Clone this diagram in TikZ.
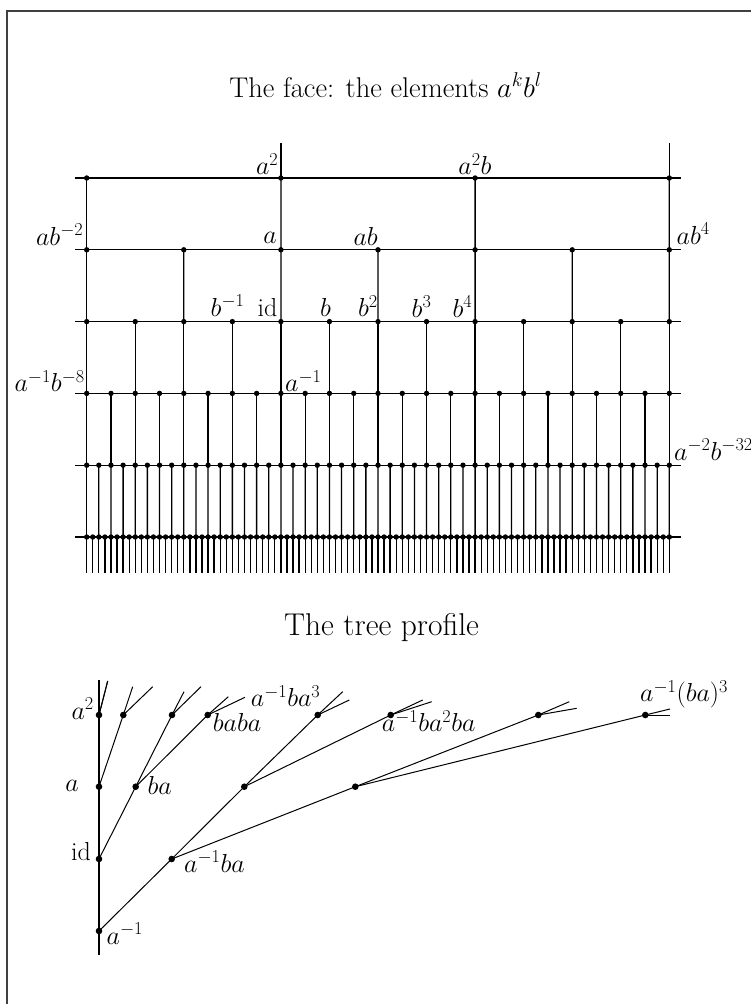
\RequirePackage{fix-cm}
\documentclass[tikz,border=0pt]{standalone}
\begin{document}
\begin{tikzpicture}[x=1pt,y=-1pt,
  faceline/.style={line width=1.3pt},
  treeline/.style={line width=1pt},
  lab/.style={font=\fontsize{26}{30}\selectfont,inner sep=0pt},
  ttl/.style={font=\fontsize{31.5}{36}\selectfont,inner sep=0pt}]
\useasboundingbox (0,0) rectangle (751,1004);
% frame (only top and left edges are inside the page)
\draw[line width=1.4pt,black!75] (7,1020) -- (7,11) -- (770,11);

% ---------------- the face ----------------
\node[ttl,anchor=base,font=\fontsize{28.5}{33}\selectfont] (facetitle) at (385.5,97.3) {The face: the elements $a^kb^l$};

\foreach \r in {0,...,5}{
  \pgfmathtruncatemacro\n{3*2^\r}
  \pgfmathsetmacro\s{194.2/2^\r}
  \pgfmathsetmacro\y{178+71.8*\r}
  \foreach \i in {0,...,\n}{
    \coordinate (f\r-\i) at ({86.7+\i*\s},\y);
  }
}
% horizontal lines
\foreach \r/\n in {0/3,1/6,2/12,3/24,4/48,5/96}{
  \draw[faceline] ([xshift=-11.4pt]f\r-0) -- ([xshift=11.7pt]f\r-\n);
}
% vertical lines
\foreach \r/\n in {0/3,1/6,2/12,3/24,4/48}{
  \pgfmathtruncatemacro\rr{\r+1}
  \foreach \i in {0,...,\n}{
    \pgfmathtruncatemacro\j{2*\i}
    \draw[faceline] (f\r-\i) -- (f\rr-\j);
  }
}
\foreach \i in {0,...,96}{
  \draw[faceline] (f5-\i) -- ++(0,35.6);
}
\draw[faceline] (f0-1) -- ++(0,-35.3);
\draw[faceline] (f0-3) -- ++(0,-35.3);
% dots
\foreach \r/\n in {0/3,1/6,2/12,3/24,4/48,5/96}{
  \foreach \i in {0,...,\n}{
    \fill (f\r-\i) circle (2.7pt);
  }
}
% labels
\node[lab,anchor=base east] (la2) at (278.5,174.5) {$a^2$};
\node[lab,anchor=base] (la2b) at (475,174.5) {$a^2b$};
\node[lab,anchor=base east] (labm2) at (83.5,245) {$ab^{-2}$};
\node[lab,anchor=base east] (la) at (277,243) {$a$};
\node[lab,anchor=base east] (lab) at (378,245) {$ab$};
\node[lab,anchor=base west] (lab4) at (676.5,244) {$ab^4$};
\node[lab,anchor=base west] (lbm1) at (210.5,316) {$b^{-1}$};
\node[lab,anchor=base east] (lid) at (277.5,316.5) {id};
\node[lab,anchor=base west] (lb) at (320,316.5) {$b$};
\node[lab,anchor=base east] (lb2) at (378,316.5) {$b^2$};
\node[lab,anchor=base west] (lb3) at (411.5,317) {$b^3$};
\node[lab,anchor=base east] (lb4) at (472.5,317) {$b^4$};
\node[lab,anchor=base east] (lam1bm8) at (85,391.5) {$a^{-1}b^{-8}$};
\node[lab,anchor=base west] (lam1) at (285,391.5) {$a^{-1}$};
\node[lab,anchor=base west] (lam2bm32) at (674,460) {$a^{-2}b^{-32}$};

% ---------------- the tree profile ----------------
\node[ttl,anchor=base] (treetitle) at (381.5,635.7) {The tree profile};

\coordinate (tbot) at (99,955);
\coordinate (ttop) at (99,680);
\coordinate (am1) at (99,931);
\coordinate (id) at (99,859);
\coordinate (a1) at (99,786.7);
\coordinate (a2) at (99,715);
\coordinate (t1) at (123.3,715);
\coordinate (ba) at (135.7,786.7);
\coordinate (t2) at (172,715);
\coordinate (baba) at (207.7,715);
\coordinate (amba) at (171.7,859);
\coordinate (m1) at (244.3,786.7);
\coordinate (m2) at (355.3,786.7);
\coordinate (amba3) at (317.7,715);
\coordinate (amba2ba) at (390.7,715);
\coordinate (t6) at (538.3,715);
\coordinate (ambap3) at (645.3,715);

\draw[line width=1.2pt] (tbot) -- (am1) -- (id) -- (a1) -- (a2) -- (ttop);
\draw[treeline] (am1) -- (amba);
\draw[treeline] (id) -- (ba);
\draw[treeline] (a1) -- (t1);
\draw[treeline] (ba) -- (t2);
\draw[treeline] (ba) -- (baba);
\draw[treeline] (amba) -- (m1);
\draw[treeline] (amba) -- (m2);
\draw[treeline] (m1) -- (amba3);
\draw[treeline] (m1) -- (amba2ba);
\draw[treeline] (m2) -- (t6);
\draw[treeline] (m2) -- (ambap3);
% stubs
\foreach \p/\q/\qq in {a2/{(107.7,681)}/{(107.7,681)},
                       t1/{(132.7,686.7)}/{(152.7,686.7)},
                       t2/{(184,691.7)}/{(201,686.7)},
                       baba/{(228.3,696.7)}/{(245,697.3)},
                       amba3/{(342.7,691.7)}/{(349.3,700)},
                       amba2ba/{(422.7,700)}/{(431.7,701.7)},
                       t6/{(569.3,701.7)}/{(576.7,708.3)},
                       ambap3/{(670,709)}/{(670,715)}}{
  \draw[treeline] (\p) -- \q;
  \draw[treeline] (\p) -- \qq;
}
% dots
\foreach \p in {am1,id,a1,a2,t1,ba,t2,baba,amba,m1,m2,amba3,amba2ba,t6,ambap3}{
  \fill (\p) circle (3.3pt);
}
% labels
\node[lab,anchor=base east] (ta2) at (94,719) {$a^2$};
\node[lab,anchor=base east] (ta) at (79,791.5) {$a$};
\node[lab,anchor=base east] (tid) at (91,860.7) {id};
\node[lab,anchor=base west] (tam1) at (106.5,944) {$a^{-1}$};
\node[lab,anchor=base west] (tba) at (147.3,794) {$ba$};
\node[lab,anchor=base west] (tbaba) at (212.7,731.7) {$baba$};
\node[lab,anchor=base west] (tamba3) at (250.7,706.7) {$a^{-1}ba^3$};
\node[lab,anchor=base west] (tamba) at (184,872.3) {$a^{-1}ba$};
\node[lab,anchor=base west] (tamba2ba) at (381.7,731.7) {$a^{-1}ba^2ba$};
\node[lab,anchor=base west] (tambap3) at (640,701.7) {$a^{-1}(ba)^3$};
\end{tikzpicture}
\end{document}
